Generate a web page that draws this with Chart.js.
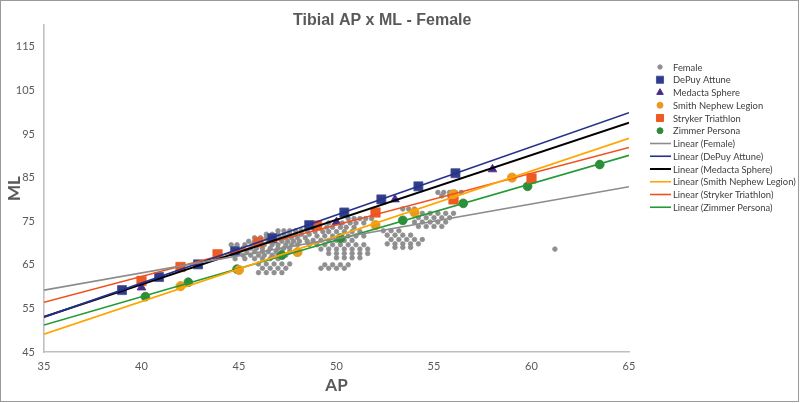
<!DOCTYPE html>
<html><head><meta charset="utf-8">
<script src="https://cdn.jsdelivr.net/npm/chart.js@4.4.0/dist/chart.umd.min.js"></script>
<style>
html,body{margin:0;padding:0;background:#fff;}
#wrap{position:relative;width:800px;height:403px;}
#frame{position:absolute;left:0;top:0;width:797px;height:400px;border:1.5px solid #9a9a9a;pointer-events:none;}
canvas{display:block;}
</style></head><body>
<div id="wrap"><canvas id="c" width="800" height="403"></canvas><div id="frame"></div></div>
<script>
const chartTitle = 'Tibial AP x ML - Female';
const xTitle = 'AP';
const yTitle = 'ML';
const xTicks = [35, 40, 45, 50, 55, 60, 65];
const yTicks = [45, 55, 65, 75, 85, 95, 105, 115];

const seriesNames = ['Female', 'DePuy Attune', 'Medacta Sphere', 'Smith Nephew Legion', 'Stryker Triathlon', 'Zimmer Persona'];

// Female [AP, ML]
const femalePoints = [
  [47.0,72.8],[47.3,72.8],[47.6,72.8],[47.9,72.8],[48.2,72.8],[48.5,72.8],
  [46.4,72.0],[46.7,72.0],[47.0,72.0],[47.3,72.0],[47.6,72.0],[47.9,72.0],[48.2,72.0],[48.6,72.0],
  [45.8,71.2],[46.1,71.2],[46.4,71.2],[46.8,71.2],[47.1,71.2],[47.4,71.2],[47.7,71.2],[48.0,71.2],[48.4,71.2],
  [45.5,70.4],[45.8,70.4],[46.1,70.4],[46.5,70.4],[46.8,70.4],[47.2,70.4],[47.5,70.4],[47.8,70.4],[48.1,70.4],[48.5,70.4],
  [44.6,69.6],[44.9,69.6],[45.3,69.6],[45.7,69.6],[46.0,69.6],[46.3,69.6],[46.7,69.6],[47.0,69.6],[47.4,69.6],[47.7,69.6],[48.0,69.6],
  [44.8,68.8],[45.2,68.8],[45.6,68.8],[45.9,68.8],[46.2,68.8],[46.6,68.8],[47.0,68.8],[47.3,68.8],[47.6,68.8],
  [45.0,68.0],[45.4,68.0],[45.8,68.0],[46.2,68.0],[46.5,68.0],[46.9,68.0],[47.2,68.0],[47.6,68.0],[48.0,68.0],
  [45.2,67.2],[45.6,67.2],[46.0,67.2],[46.3,67.2],[46.7,67.2],[47.0,67.2],[47.4,67.2],
  [44.8,66.4],[45.3,66.4],[45.8,66.4],[46.2,66.4],[46.6,66.4],[47.0,66.4],
  [46.0,65.2],[46.4,65.2],[46.8,65.2],[47.2,65.2],[47.6,65.2],
  [46.2,64.2],[46.6,64.2],[47.0,64.2],[47.4,64.2],
  [46.0,63.2],[46.4,63.2],[46.8,63.2],[47.2,63.2],
  [50.6,75.6],[50.9,75.6],[51.2,75.6],[51.5,75.6],[51.8,75.6],
  [49.6,74.6],[50.0,74.6],[50.3,74.6],[50.7,74.6],[51.0,74.6],[51.4,74.6],
  [48.8,73.6],[49.1,73.6],[49.5,73.6],[49.8,73.6],[50.2,73.6],[50.5,73.6],[50.9,73.6],
  [48.9,72.6],[49.3,72.6],[49.6,72.6],[50.0,72.6],[50.4,72.6],[50.8,72.6],[51.2,72.6],
  [49.0,71.6],[49.4,71.6],[49.8,71.6],[50.2,71.6],[50.6,71.6],[51.0,71.6],[51.4,71.6],
  [48.8,70.6],[49.2,70.6],[49.6,70.6],[50.0,70.6],[50.4,70.6],[50.8,70.6],
  [48.6,69.6],[49.0,69.6],[49.4,69.6],[49.8,69.6],[50.2,69.6],[50.6,69.6],[51.0,69.6],[51.4,69.6],
  [49.2,68.6],[49.6,68.6],[50.0,68.6],[50.4,68.6],[50.8,68.6],[51.2,68.6],[51.6,68.6],
  [49.6,67.6],[50.0,67.6],[50.4,67.6],[50.8,67.6],[51.2,67.6],[51.6,67.6],
  [50.0,66.6],[50.4,66.6],[50.8,66.6],[51.2,66.6],
  [49.4,65.0],[49.8,65.0],[50.2,65.0],[50.6,65.0],
  [49.2,64.2],[49.6,64.2],[50.0,64.2],[50.4,64.2],
  [52.4,72.8],[52.8,72.8],[53.2,72.8],
  [52.6,71.8],[53.0,71.8],[53.4,71.8],[53.8,71.8],
  [52.8,70.8],[53.2,70.8],[53.6,70.8],[54.0,70.8],[54.4,70.8],
  [52.6,69.8],[53.0,69.8],[53.4,69.8],[53.8,69.8],[54.2,69.8],
  [53.0,69.0],[53.4,69.0],[53.8,69.0],
  [53.4,77.8],[53.7,77.8],[54.0,77.8],
  [54.4,76.8],[54.8,76.8],[55.2,76.8],[55.6,76.8],[56.0,76.8],
  [54.2,75.8],[54.6,75.8],[55.0,75.8],[55.4,75.8],[55.8,75.8],
  [54.0,74.8],[54.4,74.8],[54.8,74.8],[55.2,74.8],[55.6,74.8],
  [54.2,73.8],[54.6,73.8],[55.0,73.8],[55.4,73.8],
  [55.2,81.6],[55.5,81.6],[55.8,81.6],[56.1,81.6],[56.4,81.6],
  [55.4,80.8],[55.8,80.8],
  [61.2,68.6]
];

const depuyAP = [39.0, 40.9, 42.9, 44.8, 46.7, 48.6, 50.4, 52.3, 54.2, 56.1];
const depuyML = [59.2, 62.2, 65.1, 68.1, 71.1, 74.1, 77.0, 80.0, 83.0, 86.0];
const medactaAP = [40.0, 42.9, 50.0, 53.0, 58.0];
const medactaML = [59.8, 64.9, 74.8, 80.0, 86.9];
const smithAP = [42.0, 45.0, 48.0, 52.0, 54.0, 56.0, 59.0];
const smithML = [60.1, 63.8, 67.9, 74.1, 77.0, 81.2, 85.0];
const strykerAP = [40.0, 42.0, 43.9, 46.0, 49.0, 52.0, 56.0, 60.0];
const strykerML = [61.3, 64.5, 67.4, 70.2, 74.0, 77.0, 80.0, 84.8];
const zimmerAP = [40.2, 42.4, 44.9, 47.2, 50.2, 53.4, 56.5, 59.8, 63.5];
const zimmerML = [57.7, 61.0, 64.0, 67.2, 71.1, 75.2, 79.1, 83.0, 88.0];

// Linear trendlines read at AP = 35 and AP = 65
const trendAP = [35, 65];
const trendFemale = [59.2, 82.9];
const trendDepuy = [53.0, 99.9];
const trendMedacta = [53.1, 97.6];
const trendSmith = [49.1, 94.0];
const trendStryker = [56.4, 91.9];
const trendZimmer = [51.2, 90.1];

const pts = (xs, ys) => xs.map((x, i) => ({x: x, y: ys[i]}));
const fem = femalePoints.map(p => ({x: p[0], y: p[1]}));

const markerSets = [
  {label: seriesNames[0], data: fem, pointStyle: 'circle', pointRadius: 2.3, backgroundColor: '#8f8f8f', borderColor: '#8f8f8f', order: 3, lr: 2.2},
  {label: seriesNames[1], data: pts(depuyAP, depuyML), pointStyle: 'rect', pointRadius: 6.4, backgroundColor: '#2f3c8c', borderColor: '#4a5598', order: 2, lr: 5},
  {label: seriesNames[2], data: pts(medactaAP, medactaML), pointStyle: 'triangle', pointRadius: 5, backgroundColor: '#4b2a8a', borderColor: '#4b2a8a', order: 2, lr: 3.8},
  {label: seriesNames[3], data: pts(smithAP, smithML), pointStyle: 'circle', pointRadius: 4.6, backgroundColor: '#e99a1f', borderColor: '#e99a1f', order: 2, lr: 3},
  {label: seriesNames[4], data: pts(strykerAP, strykerML), pointStyle: 'rect', pointRadius: 6.6, backgroundColor: '#ee5a24', borderColor: '#ee5a24', order: 2, lr: 5},
  {label: seriesNames[5], data: pts(zimmerAP, zimmerML), pointStyle: 'circle', pointRadius: 4.4, backgroundColor: '#2e8b3a', borderColor: '#2e8b3a', order: 2, lr: 3}
];
const trendSets = [
  {label: 'Linear (' + seriesNames[0] + ')', data: pts(trendAP, trendFemale), borderColor: '#8c8c8c', borderWidth: 1.6},
  {label: 'Linear (' + seriesNames[1] + ')', data: pts(trendAP, trendDepuy), borderColor: '#25318a', borderWidth: 1.6},
  {label: 'Linear (' + seriesNames[2] + ')', data: pts(trendAP, trendMedacta), borderColor: '#000000', borderWidth: 2},
  {label: 'Linear (' + seriesNames[3] + ')', data: pts(trendAP, trendSmith), borderColor: '#ffa500', borderWidth: 1.6},
  {label: 'Linear (' + seriesNames[4] + ')', data: pts(trendAP, trendStryker), borderColor: '#f0501e', borderWidth: 1.6},
  {label: 'Linear (' + seriesNames[5] + ')', data: pts(trendAP, trendZimmer), borderColor: '#229a35', borderWidth: 1.6}
];

const datasets = [];
markerSets.forEach(m => datasets.push({
  label: m.label, data: m.data, showLine: false, pointStyle: m.pointStyle, pointRadius: m.pointRadius,
  pointBackgroundColor: m.backgroundColor, pointBorderColor: m.borderColor, pointBorderWidth: 0.8,
  backgroundColor: m.backgroundColor, borderColor: m.borderColor, order: m.order, legendRadius: m.lr
}));
trendSets.forEach(t => datasets.push({
  label: t.label, data: t.data, showLine: true, pointRadius: 0, borderColor: t.borderColor,
  borderWidth: t.borderWidth, fill: false, order: 0, isTrend: true
}));

const textColor = '#595959';

const titlePlugin = {
  id: 'manualTitle',
  afterDraw(chart) {
    const ctx = chart.ctx;
    ctx.save();
    ctx.font = 'bold 16px "Liberation Sans", Arial, sans-serif';
    ctx.fillStyle = textColor;
    ctx.textAlign = 'left';
    ctx.textBaseline = 'middle';
    ctx.fillText(chartTitle, 293, 21);
    ctx.restore();
  }
};

const legendPlugin = {
  id: 'sideLegend',
  afterDraw(chart) {
    const ctx = chart.ctx;
    const mx = 660, tx = 673, y0 = 67, dy = 12.75;
    ctx.save();
    ctx.font = '9.4px Lato, "Open Sans", sans-serif';
    ctx.textBaseline = 'middle';
    ctx.textAlign = 'left';
    chart.data.datasets.forEach((ds, i) => {
      const y = y0 + i * dy;
      if (ds.isTrend) {
        ctx.strokeStyle = ds.borderColor;
        ctx.lineWidth = ds.borderWidth;
        ctx.beginPath();
        ctx.moveTo(650, y);
        ctx.lineTo(671, y);
        ctx.stroke();
      } else {
        ctx.fillStyle = ds.pointBackgroundColor;
        ctx.strokeStyle = ds.pointBorderColor;
        Chart.helpers.drawPoint(ctx, {pointStyle: ds.pointStyle, radius: ds.legendRadius, rotation: 0, borderWidth: 0.5}, mx, y);
      }
      ctx.fillStyle = '#404040';
      ctx.fillText(ds.label, tx, y + 0.5);
    });
    ctx.restore();
  }
};

new Chart(document.getElementById('c'), {
  type: 'scatter',
  data: {datasets: datasets},
  options: {
    responsive: false,
    animation: false,
    events: [],
    layout: {padding: {left: 0, top: 25, right: 171, bottom: 0}},
    plugins: {legend: {display: false}, title: {display: false}, tooltip: {enabled: false}},
    scales: {
      x: {
        type: 'linear', min: 35, max: 65,
        afterBuildTicks: s => { s.ticks = xTicks.map(v => ({value: v})); },
        afterFit: s => { s.height = 51; },
        grid: {display: true, drawOnChartArea: false, drawTicks: false},
        border: {display: true, color: '#bfbfbf', width: 1.6},
        ticks: {color: textColor, padding: 8, font: {family: 'Lato', size: 11}, maxRotation: 0},
        title: {display: true, text: xTitle, color: textColor, font: {family: 'Lato', size: 17, weight: 'bold'}, padding: {top: 0, bottom: 7}}
      },
      y: {
        type: 'linear', min: 45, max: 120,
        afterBuildTicks: s => { s.ticks = yTicks.map(v => ({value: v})); },
        afterFit: s => { s.width = 44; },
        grid: {display: true, drawOnChartArea: false, drawTicks: false},
        border: {display: true, color: '#bfbfbf', width: 1.6},
        ticks: {color: textColor, padding: 9, font: {family: 'Lato', size: 11}},
        title: {display: true, text: yTitle, color: textColor, font: {family: 'Lato', size: 17, weight: 'bold'}, padding: {top: 4, bottom: 0}}
      }
    }
  },
  plugins: [titlePlugin, legendPlugin]
});
</script>
</body></html>
